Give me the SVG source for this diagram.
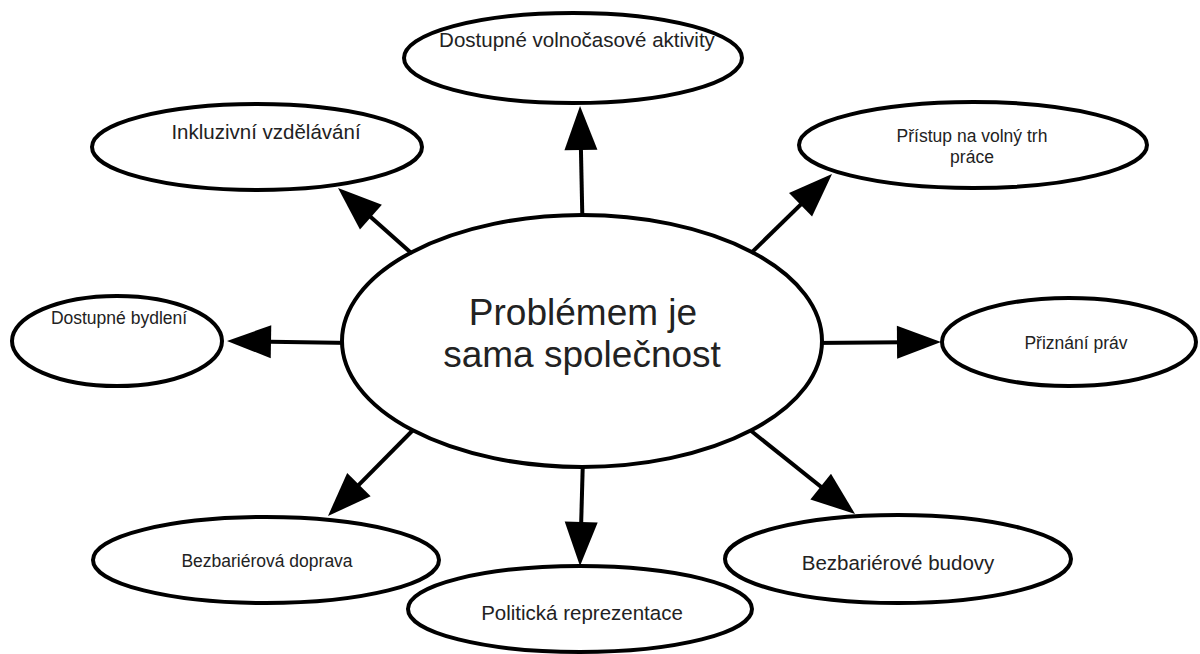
<svg xmlns="http://www.w3.org/2000/svg" width="1200" height="654" viewBox="0 0 1200 654">
<defs>
<marker id="ah" markerUnits="userSpaceOnUse" markerWidth="46" markerHeight="34" refX="36" refY="16.5" orient="auto" overflow="visible">
<path d="M0,0 L44,16.5 L0,33 Z" fill="#000"/>
</marker>
<style>
.n{fill:#fff;stroke:#000;stroke-width:4}
.c{fill:none;stroke:#000;stroke-width:4;marker-end:url(#ah)}
text{font-family:"Liberation Sans",Arial,sans-serif;fill:#222;text-anchor:middle}
.big{font-size:37px}
.m{font-size:20.5px}
.s{font-size:17.5px}
</style>
</defs>
<rect width="1200" height="654" fill="#fff"/>
<g id="connectors">
<line class="c" x1="582.5" y1="225" x2="580.2" y2="114"/>
<line class="c" x1="418" y1="259" x2="344" y2="193.3"/>
<line class="c" x1="745" y1="259" x2="826.3" y2="179.6"/>
<line class="c" x1="352" y1="343" x2="235" y2="341.1"/>
<line class="c" x1="812" y1="343" x2="933" y2="342.1"/>
<line class="c" x1="419" y1="424" x2="333.6" y2="510.3"/>
<line class="c" x1="583" y1="457" x2="580.2" y2="558"/>
<line class="c" x1="745" y1="426" x2="848.8" y2="509"/>
</g>
<g id="center">
<ellipse class="n" cx="582" cy="341" rx="240" ry="126"/>
<text class="big" x="583" y="325">Problémem je</text>
<text class="big" x="582" y="367">sama společnost</text>
</g>
<g id="volnocas">
<ellipse class="n" cx="573" cy="58" rx="169" ry="45"/>
<text class="m" x="577" y="47">Dostupné volnočasové aktivity</text>
</g>
<g id="inkluzivni">
<ellipse class="n" cx="257" cy="147" rx="165" ry="43"/>
<text class="m" x="266" y="139">Inkluzivní vzdělávání</text>
</g>
<g id="pristup">
<ellipse class="n" cx="973" cy="145" rx="174" ry="43"/>
<text class="s" x="972" y="142">Přístup na volný trh</text>
<text class="s" x="972" y="163">práce</text>
</g>
<g id="bydleni">
<ellipse class="n" cx="117" cy="341" rx="105" ry="45"/>
<text class="s" x="119" y="324">Dostupné bydlení</text>
</g>
<g id="priznani">
<ellipse class="n" cx="1069" cy="342" rx="127" ry="44"/>
<text class="s" x="1076" y="349">Přiznání práv</text>
</g>
<g id="doprava">
<ellipse class="n" cx="266" cy="560" rx="173" ry="43"/>
<text class="s" x="267" y="567">Bezbariérová doprava</text>
</g>
<g id="politicka">
<ellipse class="n" cx="580" cy="609" rx="172" ry="43"/>
<text class="m" x="582" y="620">Politická reprezentace</text>
</g>
<g id="budovy">
<ellipse class="n" cx="898" cy="559" rx="173" ry="44"/>
<text class="m" x="898" y="570">Bezbariérové budovy</text>
</g>
</svg>
